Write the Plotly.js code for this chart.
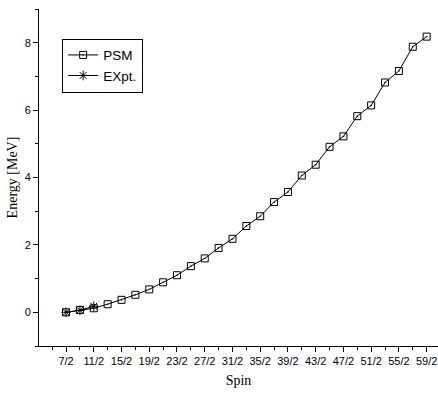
<!DOCTYPE html>
<html>
<head>
<meta charset="utf-8">
<script src="https://cdn.plot.ly/plotly-3.0.1.min.js"></script>
<style>html,body{margin:0;padding:0;background:#fff;}#chart{width:438px;height:394px;}</style>
</head>
<body>
<div id="chart"></div>
<script>
const spins = ["7/2","9/2","11/2","13/2","15/2","17/2","19/2","21/2","23/2","25/2","27/2","29/2","31/2","33/2","35/2","37/2","39/2","41/2","43/2","45/2","47/2","49/2","51/2","53/2","55/2","57/2","59/2"];
const psm = [0, 0.07, 0.12, 0.24, 0.37, 0.52, 0.68, 0.89, 1.10, 1.37, 1.60, 1.91, 2.18, 2.56, 2.85, 3.27, 3.57, 4.06, 4.38, 4.91, 5.22, 5.82, 6.14, 6.82, 7.16, 7.88, 8.18];
const exptSpins = ["7/2","9/2","11/2"];
const expt = [0, 0.06, 0.18];

const idx = s => spins.indexOf(s);
const xPsm = spins.map(idx);
const xExpt = exptSpins.map(idx);
const labelVals = xPsm.filter(i => i % 2 === 0);
const labelText = labelVals.map(i => spins[i]);
const minorVals = [-1].concat(xPsm.filter(i => i % 2 === 1));

const data = [
  {x: xPsm, y: psm, name: "PSM", type: "scatter", mode: "lines+markers",
   line: {color: "#000", width: 1},
   marker: {symbol: "square-open-dot", size: 7, color: "#000", line: {width: 1, color: "#000"}}},
  {x: xExpt, y: expt, name: "EXpt.", type: "scatter", mode: "lines+markers",
   line: {color: "#000", width: 1},
   marker: {symbol: "asterisk-open", size: 8, color: "#000", line: {width: 1, color: "#000"}}}
];

const layout = {
  width: 438, height: 394,
  margin: {l: 39, r: 0, t: 9, b: 48},
  paper_bgcolor: "#fff", plot_bgcolor: "#fff",
  showlegend: true,
  legend: {x: 0.058, y: 0.912, xanchor: "left", yanchor: "top",
           bordercolor: "#000", borderwidth: 1, bgcolor: "#fff",
           font: {family: "Liberation Sans, Arial, sans-serif", size: 13.5, color: "#000"},
           itemwidth: 30, tracegroupgap: 0},
  xaxis: {
    range: [-1.95, 26.82], showgrid: false, zeroline: false,
    showline: true, linecolor: "#000", linewidth: 1,
    ticks: "outside", ticklen: 5, tickcolor: "#000", tickwidth: 1,
    tickmode: "array", tickvals: labelVals, ticktext: labelText,
    tickfont: {family: "Liberation Sans, Arial, sans-serif", size: 11, color: "#000"},
    minor: {tickmode: "array", tickvals: minorVals, ticks: "outside", ticklen: 3, tickcolor: "#000", showgrid: false},
    title: {text: "Spin", font: {family: "Liberation Serif, Times New Roman, serif", size: 14, color: "#000"}, standoff: 8}
  },
  yaxis: {
    range: [-1, 9], showgrid: false, zeroline: false,
    showline: true, linecolor: "#000", linewidth: 1,
    ticks: "outside", ticklen: 5, tickcolor: "#000", tickwidth: 1,
    tickmode: "linear", tick0: 0, dtick: 2,
    tickfont: {family: "Liberation Sans, Arial, sans-serif", size: 11, color: "#000"},
    minor: {tick0: 1, dtick: 2, ticks: "outside", ticklen: 3, tickcolor: "#000", showgrid: false},
    title: {text: "Energy [MeV]", font: {family: "Liberation Serif, Times New Roman, serif", size: 14, color: "#000"}, standoff: 3}
  }
};

Plotly.newPlot("chart", data, layout, {displayModeBar: false, staticPlot: true});
</script>
</body>
</html>
